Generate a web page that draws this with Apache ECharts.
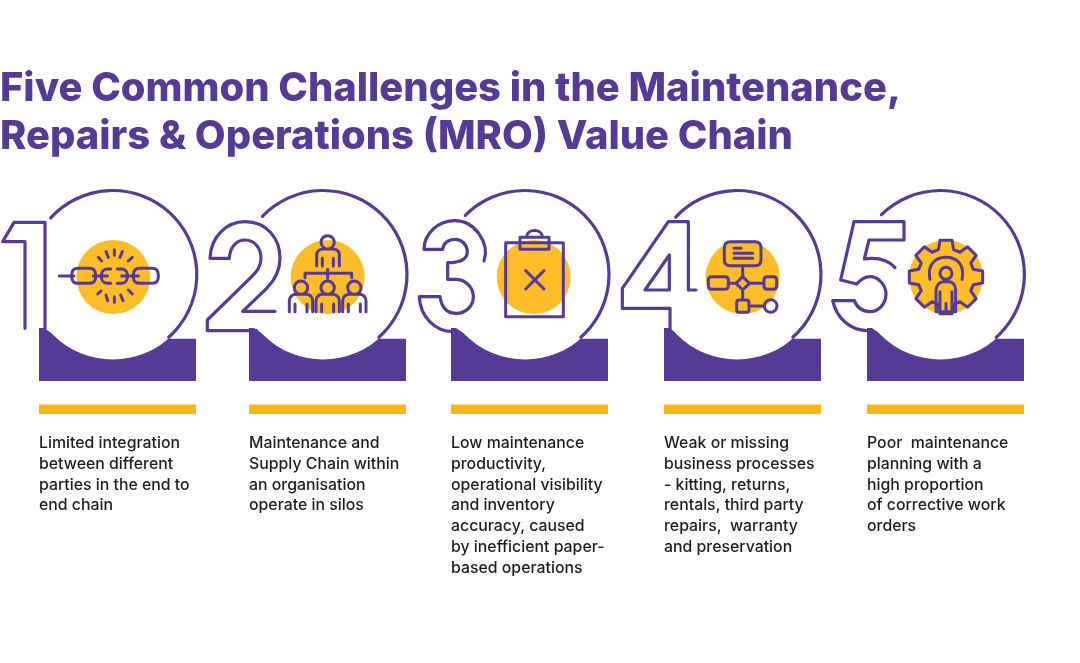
<!DOCTYPE html>
<html><head><meta charset="utf-8">
<style>html,body{margin:0;padding:0;background:#fff}#c{width:1080px;height:663px}</style>
<script src="https://cdn.jsdelivr.net/npm/echarts@6/dist/echarts.min.js"></script>
</head><body><div id="c"></div>
<script>
const titleLines = ['Five Common Challenges in the Maintenance,', 'Repairs & Operations (MRO) Value Chain'];
const challenge1 = ['Limited integration', 'between different', 'parties in the end to', 'end chain'];
const challenge2 = ['Maintenance and', 'Supply Chain within', 'an organisation', 'operate in silos'];
const challenge3 = ['Low maintenance', 'productivity,', 'operational visibility', 'and inventory', 'accuracy, caused', 'by inefficient paper-', 'based operations'];
const challenge4 = ['Weak or missing', 'business processes', '- kitting, returns,', 'rentals, third party', 'repairs,  warranty', 'and preservation'];
const challenge5 = ['Poor  maintenance', 'planning with a', 'high proportion', 'of corrective work', 'orders'];
const challenges = [challenge1, challenge2, challenge3, challenge4, challenge5];

// layout of the artwork
const PURPLE = '#563b96', BAR = '#fdb614', DISC = '#ffbd29';
const panelLeft = [39, 249, 451, 664, 867];
const circleCx = [112.8, 323, 525, 737, 940.4];
const arcStart = [[50, 217.3], [261.7, 215.7], [464.3, 214.3], [674.3, 215.7], [880.7, 214]];
const artOrigin = [[0, 180], [0, 180], [410, 180], [410, 180], [820, 180]];
const discCx = [340, 983, 371, 998, 378];
const CY = 274.5, R = 84;

const digitPaths = [
  'M75 445L75 185L8 185L42 127L135 127L135 445',
  'M825 394L728 394L800 325C830 295 840 265 840 235C840 175 800 125 735 125C680 125 632 170 630 235L688 235C690 200 710 180 735 180C765 180 783 205 783 235C783 260 770 275 755 290L622 420L622 452L770 452',
  'M222 243C240 190 195 122 135 122C85 122 42 160 42 208L98 208C100 190 115 178 135 178C155 178 172 195 172 215C172 240 150 248 113 248L113 298L140 298C170 300 190 325 190 350C190 380 165 400 140 400C115 400 95 385 90 350L28 350C30 410 75 455 130 455',
  'M858 330L835 330L835 125L775 125L637 325L637 385L780 385L780 450M778 225L778 330L705 330Z',
  'M225 263C205 240 170 232 133 237L147 180L252 180L252 125L102 125L62 300L110 312C125 295 140 290 150 290C175 290 198 315 198 343C198 372 175 395 150 395C125 395 110 380 103 362L38 362C50 415 90 450 140 452'
];

function circ(x, y, r) { return `M${x - r} ${y}A${r} ${r} 0 1 1 ${x + r} ${y}A${r} ${r} 0 1 1 ${x - r} ${y}Z`; }
function rrect(a, b, c, d, r) { return `M${a + r} ${b}L${c - r} ${b}Q${c} ${b} ${c} ${b + r}L${c} ${d - r}Q${c} ${d} ${c - r} ${d}L${a + r} ${d}Q${a} ${d} ${a} ${d - r}L${a} ${b + r}Q${a} ${b} ${a + r} ${b}Z`; }
function person(x) { return circ(x, 323, 20) + `M${x - 35} 395L${x - 35} 362C${x - 35} 350 ${x - 25} 343 ${x - 15} 343L${x + 15} 343C${x + 25} 343 ${x + 35} 350 ${x + 35} 362L${x + 35} 395M${x - 18} 372L${x - 18} 395M${x + 18} 372L${x + 18} 395`; }
function gear(cx, cy) {
  let d = '';
  for (let i = 0; i < 8; i++) {
    const a = i * Math.PI / 4, c = Math.cos(a), s = Math.sin(a);
    [[-23, -82], [-18, -110], [18, -110], [23, -82]].forEach((p, k) => {
      d += (i === 0 && k === 0 ? 'M' : 'L') + (cx + p[0] * c - p[1] * s) + ' ' + (cy + p[0] * s + p[1] * c);
    });
  }
  return d + 'Z';
}
const iconPaths = [
  'M178 288L222 288M280 288L322 288M365 288L415 288' + rrect(215, 265, 287, 310, 20) + rrect(400, 265, 475, 310, 20) +
  'M332 267L322 267C298 267 298 310 322 310L332 310M352 267L365 267C388 267 388 310 365 310L352 310' +
  'M295 232L305 243M318 215L325 232M343 209L343 226M367 215L360 232M397 232L385 243M293 342L303 333M318 345L323 362M343 350L343 367M362 345L369 362M397 342L385 330',
  circ(983, 187, 20) + 'M950 258L950 225C950 212 960 207 970 207L996 207C1008 207 1018 212 1018 225L1018 258M967 235L967 258M1000 235L1000 258' +
  'M915 293L915 280L1055 280L1055 293M983 268L983 295' + person(903) + person(983) + person(1063),
  'M287 188L460 188L460 410L287 410Z' + 'M330 172L417 172L417 208L330 208ZM350 172C350 145 397 145 397 172M347 272L402 327M402 272L347 327',
  rrect(943, 185, 1053, 257, 18) + 'M972 205L993 205M972 220L1028 220M972 235L1028 235M998 257L998 290M998 290L1018 310L998 330L978 310Z' +
  rrect(895, 290, 955, 328, 10) + rrect(1062, 290, 1100, 328, 10) + 'M955 310L978 310M1018 310L1062 310M998 330L998 360' +
  rrect(980, 360, 1017, 397, 8) + 'M1017 378L1062 378' + circ(1082, 378, 19),
  gear(378, 291) + circ(378, 280, 18) + 'M330 298C320 250 350 232 378 232C406 232 436 250 426 298' +
  'M348 395L348 330C348 315 360 305 370 305L388 305C398 305 407 315 407 330L407 395ZM360 335L360 395M396 335L396 395M378 370L378 395'
];

function artPath(d, lw) {
  return {
    type: 'path',
    shape: { pathData: 'M0 0M1300 760' + d, x: 0, y: 0, width: 1300, height: 760, layout: 'cover' },
    style: { fill: 'none', stroke: PURPLE, lineWidth: lw, lineJoin: 'round', lineCap: 'round' }
  };
}

function renderPanel(params, api) {
  const i = api.value(0);
  const left = panelLeft[i], cx = circleCx[i];
  const tl = api.coord([left, 328]), br = api.coord([left + 157, 381]);
  const cc = api.coord([cx, CY]);
  const ar = api.size([R, R]);
  const rPx = ar[0];
  const s = arcStart[i];
  const startA = Math.atan2(s[1] - CY, s[0] - cx), endA = Math.atan2(64, 57);
  const org = api.coord(artOrigin[i]);
  const lines = challenges[i].map((t, k) => {
    const p = api.coord([left, 443.3 + k * 20.75]);
    return { type: 'text', x: p[0], y: p[1], style: { text: t, fill: '#1d1d1f', font: '500 15.85px Inter', verticalAlign: 'middle', align: 'left' } };
  });
  return {
    type: 'group',
    children: [
      { type: 'polygon', shape: { points: [tl, [tl[0] + 5, tl[1]], [tl[0] + 21, tl[1] + 10.7], [br[0], tl[1] + 10.7], br, [tl[0], br[1]]] }, style: { fill: PURPLE } },
      { type: 'circle', shape: { cx: cc[0], cy: cc[1], r: rPx + 1 }, style: { fill: '#fff' } },
      { type: 'arc', shape: { cx: cc[0], cy: cc[1], r: rPx, startAngle: startA, endAngle: endA, clockwise: true }, style: { fill: 'none', stroke: PURPLE, lineWidth: 3.2, lineCap: 'round' } },
      { type: 'rect', shape: { x: tl[0], y: api.coord([0, 404.4])[1], width: br[0] - tl[0], height: 9.6 }, style: { fill: BAR } },
      {
        type: 'group', x: org[0], y: org[1], scaleX: 1 / 3, scaleY: 1 / 3,
        children: [
          { type: 'circle', shape: { cx: discCx[i], cy: 291, r: 111 }, style: { fill: DISC } },
          artPath(digitPaths[i], 9.6),
          artPath(iconPaths[i], 9)
        ]
      }
    ].concat(lines)
  };
}

const chart = echarts.init(document.getElementById('c'), null, { renderer: 'canvas' });
chart.setOption({
  animation: false,
  backgroundColor: '#fff',
  title: {
    text: titleLines.join('\n'), left: 0, top: 65, padding: 0,
    textStyle: { color: PURPLE, fontFamily: 'Inter', fontWeight: 800, fontSize: 39.9, lineHeight: 48 }
  },
  grid: { left: 0, right: 0, top: 0, bottom: 0 },
  xAxis: { type: 'value', min: 0, max: 1080, show: false },
  yAxis: { type: 'value', min: 0, max: 663, inverse: true, show: false },
  series: [{
    type: 'custom', coordinateSystem: 'cartesian2d', clip: false, silent: true,
    renderItem: renderPanel,
    encode: { x: 0 },
    data: challenges.map((c, i) => [i])
  }]
});
</script></body></html>
